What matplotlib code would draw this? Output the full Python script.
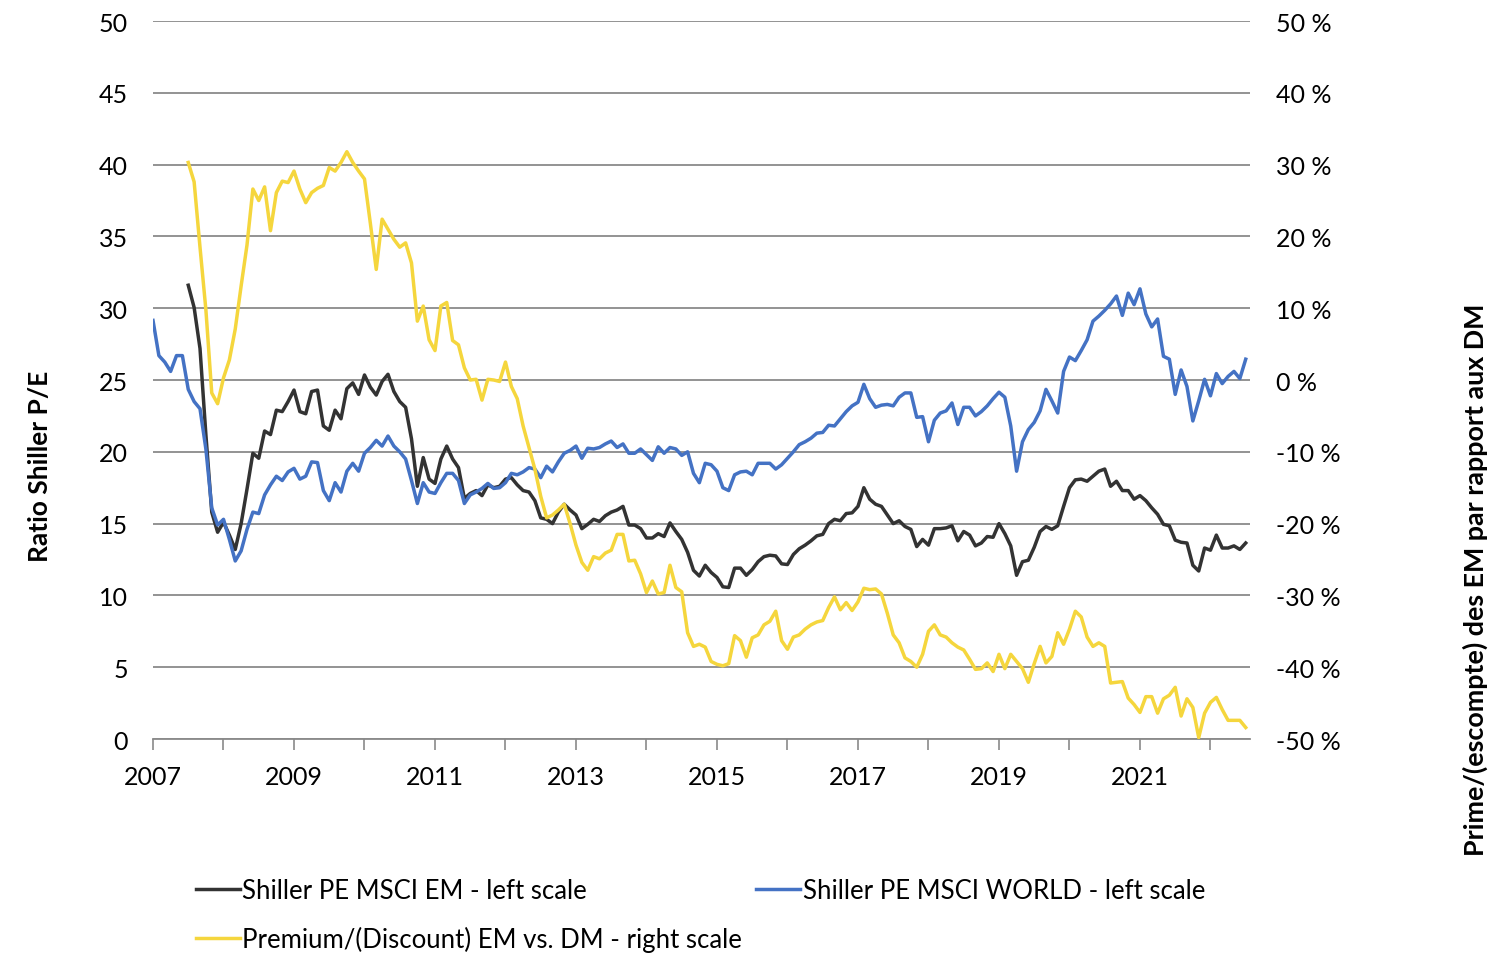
import matplotlib.pyplot as plt
import numpy as np

plt.rcParams['font.family'] = ['Lato', 'DejaVu Sans']

# monthly values, Jan 2007 -> Jul 2022
world = [29.15, 26.7, 26.25, 25.6, 26.7, 26.7, 24.35, 23.5, 23.0, 20.2, 16.1, 14.9,
         15.3, 13.9, 12.4, 13.1, 14.6, 15.8, 15.7, 17.0, 17.7, 18.3, 18.0, 18.6,
         18.85, 18.1, 18.3, 19.3, 19.25, 17.3, 16.6, 17.85, 17.2, 18.65, 19.2, 18.65,
         19.9, 20.3, 20.8, 20.4, 21.1, 20.4, 20.0, 19.5, 18.0, 16.4, 17.85, 17.2,
         17.1, 17.85, 18.5, 18.5, 18.0, 16.4, 17.0, 17.2, 17.45, 17.8, 17.45, 17.5,
         17.85, 18.5, 18.4, 18.6, 18.9, 18.8, 18.2, 19.0, 18.6, 19.3, 19.9, 20.1,
         20.4, 19.55, 20.25, 20.2, 20.3, 20.55, 20.75, 20.3, 20.55, 19.9, 19.9, 20.2,
         19.8, 19.4, 20.35, 19.9, 20.3, 20.2, 19.75, 20.0, 18.5, 17.85, 19.2, 19.1,
         18.65, 17.5, 17.3, 18.4, 18.6, 18.65, 18.4, 19.2, 19.2, 19.2, 18.8, 19.1,
         19.55, 20.0, 20.5, 20.7, 20.95, 21.3, 21.35, 21.85, 21.8, 22.3, 22.8, 23.2,
         23.45, 24.7, 23.7, 23.1, 23.25, 23.3, 23.2, 23.8, 24.1, 24.1, 22.4, 22.45,
         20.7, 22.2, 22.7, 22.85, 23.4, 21.9, 23.1, 23.1, 22.5, 22.8, 23.2, 23.7,
         24.15, 23.8, 21.8, 18.65, 20.7, 21.55, 22.05, 22.85, 24.35, 23.55, 22.7, 25.6,
         26.6, 26.35, 27.05, 27.8, 29.1, 29.45, 29.85, 30.3, 30.85, 29.5, 31.05, 30.25,
         31.35, 29.6, 28.7, 29.25, 26.65, 26.45, 24.0, 25.7, 24.55, 22.15, 23.55, 25.05,
         23.9, 25.45, 24.75, 25.25, 25.6, 25.1, 26.45]

# monthly values, Jul 2007 -> Jul 2022
em = [31.6, 30.05, 27.2, 21.2, 15.8, 14.4,
      15.1, 14.2, 13.2, 15.0, 17.4, 19.9, 19.55, 21.45, 21.2, 22.9, 22.8, 23.5,
      24.3, 22.8, 22.65, 24.2, 24.3, 21.8, 21.5, 22.9, 22.3, 24.4, 24.8, 24.0,
      25.35, 24.5, 23.95, 24.9, 25.4, 24.2, 23.5, 23.1, 20.9, 17.6, 19.6, 18.1,
      17.8, 19.5, 20.4, 19.5, 18.9, 16.75, 17.1, 17.3, 16.95, 17.7, 17.5, 17.6,
      18.1, 18.2, 17.7, 17.3, 17.2, 16.6, 15.4, 15.3, 15.0, 15.8, 16.35, 15.95,
      15.6, 14.65, 14.95, 15.3, 15.15, 15.55, 15.8, 15.95, 16.2, 14.9, 14.9, 14.65,
      14.0, 14.0, 14.3, 14.1, 15.05, 14.45, 13.9, 13.0, 11.75, 11.35, 12.1, 11.6,
      11.25, 10.6, 10.55, 11.9, 11.9, 11.4, 11.8, 12.35, 12.7, 12.8, 12.75, 12.2,
      12.15, 12.85, 13.25, 13.5, 13.8, 14.15, 14.25, 15.0, 15.3, 15.2, 15.7, 15.75,
      16.2, 17.5, 16.7, 16.35, 16.2, 15.6, 15.0, 15.2, 14.8, 14.6, 13.4, 13.9,
      13.5, 14.65, 14.65, 14.7, 14.85, 13.8, 14.45, 14.2, 13.45, 13.65, 14.1, 14.05,
      15.0, 14.3, 13.45, 11.4, 12.35, 12.45, 13.35, 14.45, 14.8, 14.6, 14.85, 16.2,
      17.5, 18.05, 18.1, 17.95, 18.3, 18.65, 18.8, 17.6, 17.95, 17.3, 17.3, 16.7,
      16.95, 16.6, 16.1, 15.65, 14.95, 14.85, 13.85, 13.7, 13.65, 12.1, 11.7, 13.3,
      13.15, 14.2, 13.3, 13.3, 13.45, 13.2, 13.65]

# premium/(discount) in %, Jul 2007 -> Jul 2022
prem = [30.3, 27.6, 18.5, 9.8, -1.8, -3.3,
        0.3, 2.8, 7.1, 13.1, 18.8, 26.6, 25.0, 26.9, 20.8, 26.1, 27.7, 27.5,
        29.1, 26.6, 24.7, 26.1, 26.7, 27.1, 29.6, 29.1, 30.3, 31.8, 30.3, 29.1,
        28.0, 21.8, 15.4, 22.4, 21.0, 19.6, 18.5, 19.1, 16.3, 8.2, 10.3, 5.6,
        4.1, 10.3, 10.8, 5.5, 4.9, 1.7, 0.0, 0.1, -2.8, 0.1, 0.0, -0.2,
        2.5, -0.9, -2.6, -6.4, -9.4, -12.4, -16.2, -19.2, -18.8, -18.1, -17.3, -20.0,
        -23.0, -25.4, -26.5, -24.6, -24.9, -24.1, -23.7, -21.5, -21.5, -25.2, -25.1, -27.0,
        -29.6, -28.0, -29.8, -29.6, -25.8, -28.9, -29.5, -35.2, -37.1, -36.8, -37.2, -39.2,
        -39.6, -39.8, -39.5, -35.6, -36.3, -38.6, -35.9, -35.5, -34.1, -33.6, -32.2, -36.3,
        -37.5, -35.8, -35.5, -34.7, -34.1, -33.7, -33.5, -31.7, -30.2, -32.0, -31.0, -32.1,
        -30.9, -29.0, -29.2, -29.1, -29.8, -32.5, -35.5, -36.6, -38.7, -39.2, -40.0, -38.2,
        -35.0, -34.1, -35.5, -35.8, -36.6, -37.2, -37.6, -38.9, -40.3, -40.2, -39.4, -40.6,
        -38.2, -40.2, -38.2, -39.2, -40.2, -42.1, -39.5, -37.1, -39.4, -38.5, -35.2, -36.8,
        -34.7, -32.2, -33.0, -35.8, -37.1, -36.6, -37.1, -42.2, -42.1, -42.0, -44.3, -45.2,
        -46.3, -44.1, -44.1, -46.4, -44.4, -43.9, -42.8, -46.8, -44.4, -45.6, -49.8, -46.4,
        -44.9, -44.2, -45.9, -47.4, -47.4, -47.4, -48.4]

labels = ['Shiller PE MSCI EM - left scale', 'Shiller PE MSCI WORLD - left scale',
          'Premium/(Discount) EM vs. DM - right scale']
year_ticks = list(range(2007, 2023))

x_world = 2007 + np.arange(len(world)) / 12
x_em = 2007.5 + np.arange(len(em)) / 12

fig = plt.figure(figsize=(15, 9.7), dpi=100)
ax = fig.add_axes([0.102, 0.2371, 0.7313, 0.7402])
ax2 = ax.twinx()

l_em, = ax.plot(x_em, em, color='#333333', lw=2.5)
l_world, = ax.plot(x_world, world, color='#4472C4', lw=2.5)
l_prem, = ax2.plot(x_em, prem, color='#F5D63D', lw=2.5)

ax.set_xlim(2007, 2022.56)
ax.set_ylim(0, 50)
ax2.set_ylim(-50, 50)

ax.set_yticks(range(0, 51, 5))
ax2.set_yticks(range(-50, 51, 10))
ax2.set_yticklabels([f'{v} %' for v in range(-50, 51, 10)])
ax.set_xticks(year_ticks)
ax.set_xticklabels([str(y) if y % 2 == 1 else '' for y in year_ticks])

ax.grid(axis='y', color='#8a8a8a', lw=1.3)
ax.set_axisbelow(True)
for a in (ax, ax2):
    for s in ('top', 'left', 'right'):
        a.spines[s].set_visible(False)
ax2.spines['bottom'].set_visible(False)
ax.spines['bottom'].set_color('#8a8a8a')
ax.spines['bottom'].set_linewidth(1.3)

ax.tick_params(axis='y', length=0, pad=18, labelsize=18)
ax2.tick_params(axis='y', length=0, pad=19, labelsize=18)
ax.tick_params(axis='x', length=8, width=1.2, color='#8a8a8a', direction='out', pad=11, labelsize=18)

fig.text(40 / 1500, 1 - 466 / 970, 'Ratio Shiller P/E', rotation=90, ha='center', va='center',
         fontsize=19, fontweight='bold')
fig.text(1475 / 1500, 1 - 580 / 970, 'Prime/(escompte) des EM par rapport aux DM', rotation=90,
         ha='center', va='center', fontsize=19.4, fontweight='bold')

fig.legend([l_em, l_prem, l_world], [labels[0], labels[2], labels[1]],
           loc='upper left', bbox_to_anchor=(196 / 1500, 1 - 879 / 970), ncol=2, frameon=False,
           fontsize=18.5, handlelength=1.7, handletextpad=0.1, columnspacing=0.55, labelspacing=0.9,
           borderaxespad=0, borderpad=0)

fig.savefig('out.png', dpi=100)
